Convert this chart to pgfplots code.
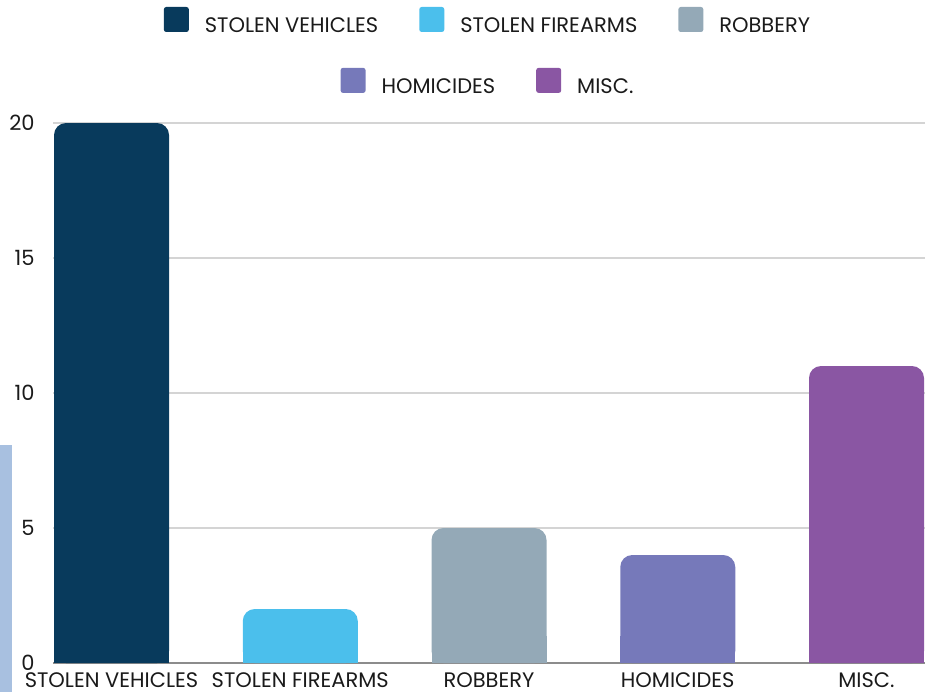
\documentclass[border=0pt]{standalone}
\usepackage{fontspec}
\setmainfont{Poppins}
\usepackage{pgfplots}
\pgfplotsset{compat=1.18}

\definecolor{cveh}{HTML}{083A5C}
\definecolor{cfire}{HTML}{4BBFEC}
\definecolor{crob}{HTML}{94A9B7}
\definecolor{chom}{HTML}{7679BA}
\definecolor{cmisc}{HTML}{8A56A3}
\definecolor{cstrip}{HTML}{A8C0E0}
\definecolor{cgrid}{HTML}{D4D4D4}
\definecolor{cbase}{HTML}{8C8C8C}
\definecolor{ctext}{HTML}{1A1A1A}

\newcommand{\figfont}{\fontsize{10.5}{12}\selectfont}

\pgfplotsset{
  crimebar/.style={ybar, bar width=57.5pt, bar shift=0pt, draw=none},
  sqlegend/.style={
    legend image code/.code={\fill[##1, rounded corners=1.2pt] (0pt,-2.8pt) rectangle (12.5pt,9.7pt);},
    legend style={draw=none, fill=none, font=\figfont, text=ctext, anchor=center,
      cells={anchor=west},
      /tikz/every odd column/.append style={column sep=6pt},
      /tikz/every even column/.append style={column sep=18.5pt}}},
}

% one bar per category; drawn square at the foot, then rounded on top
\newcommand{\crimebars}[1]{%
  \addplot[crimebar, fill=cveh, #1] coordinates {(0,20)};
  \addplot[crimebar, fill=cfire, #1] coordinates {(1,2)};
  \addplot[crimebar, fill=crob, #1] coordinates {(2,5)};
  \addplot[crimebar, fill=chom, #1] coordinates {(3,4)};
  \addplot[crimebar, fill=cmisc, #1] coordinates {(4,11)};
}

\begin{document}
\begin{tikzpicture}
\useasboundingbox (0,0) rectangle (465.5pt,346pt);
\fill[cstrip] (0,0) rectangle (6pt,123.5pt);
\begin{axis}[
  at={(26.5pt,14.5pt)}, anchor=south west,
  scale only axis, width=436pt, height=276.75pt,
  xmin=-0.31, xmax=4.31, ymin=0, ymax=20.5,
  axis lines=left, axis line style={-},
  y axis line style={draw=none},
  x axis line style={cbase, line width=0.8pt},
  xtick={0,1,2,3,4},
  xticklabels={STOLEN VEHICLES, STOLEN FIREARMS, ROBBERY, HOMICIDES, MISC.},
  ytick={0,5,10,15,20},
  ymajorgrids, grid style={cgrid, line width=0.6pt},
  major tick length=0pt,
  tick label style={font=\figfont, text=ctext},
  /pgf/number format/assume math mode=true,
  xticklabel style={anchor=north, inner sep=0pt, yshift=-4.5pt},
  yticklabel style={anchor=east, inner sep=0pt, xshift=-9pt},
  sqlegend,
  legend style={at={(0.5,1.156)}},
  legend columns=3,
]
\begin{scope}
\clip (axis cs:-0.31,0) rectangle (axis cs:4.31,1);
\crimebars{sharp corners, forget plot}
\end{scope}
\crimebars{rounded corners=6pt}
\legend{STOLEN VEHICLES, STOLEN FIREARMS, ROBBERY}
\end{axis}
\begin{axis}[
  at={(26.5pt,14.5pt)}, anchor=south west,
  scale only axis, width=436pt, height=276.75pt,
  xmin=0, xmax=1, ymin=0, ymax=1, hide axis,
  sqlegend,
  legend style={at={(0.5,1.046)}},
  legend columns=2,
]
\addlegendimage{crimebar, fill=chom}
\addlegendentry{HOMICIDES}
\addlegendimage{crimebar, fill=cmisc}
\addlegendentry{MISC.}
\end{axis}
\end{tikzpicture}
\end{document}
